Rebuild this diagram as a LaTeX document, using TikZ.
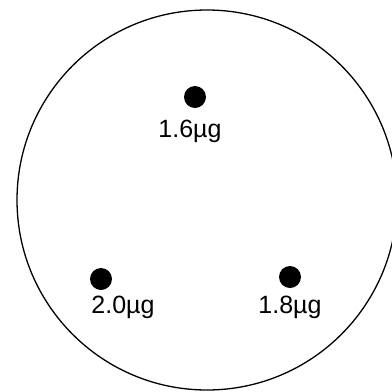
\documentclass[tikz,border=0pt]{standalone}
\usepackage{fontspec}
\setmainfont{Liberation Sans}
\begin{document}
\begin{tikzpicture}[x=1pt,y=-1pt,
  dot/.style={circle,fill=black,inner sep=0pt,minimum size=22pt},
  lbl/.style={anchor=base,inner sep=0pt,font=\fontsize{25}{28}\selectfont}]
\useasboundingbox (0,0) rectangle (392,392);
\draw[line width=1.3pt] (207,200) circle [radius=190];
\node[dot] (d1) at (195,97) {};
\node[dot] (d2) at (101,279) {};
\node[dot] (d3) at (290,277) {};
\node[lbl] (l1) at (190,137) {1.6µg};
\node[lbl] (l2) at (123,313) {2.0µg};
\node[lbl] (l3) at (290,313) {1.8µg};
\end{tikzpicture}
\end{document}
